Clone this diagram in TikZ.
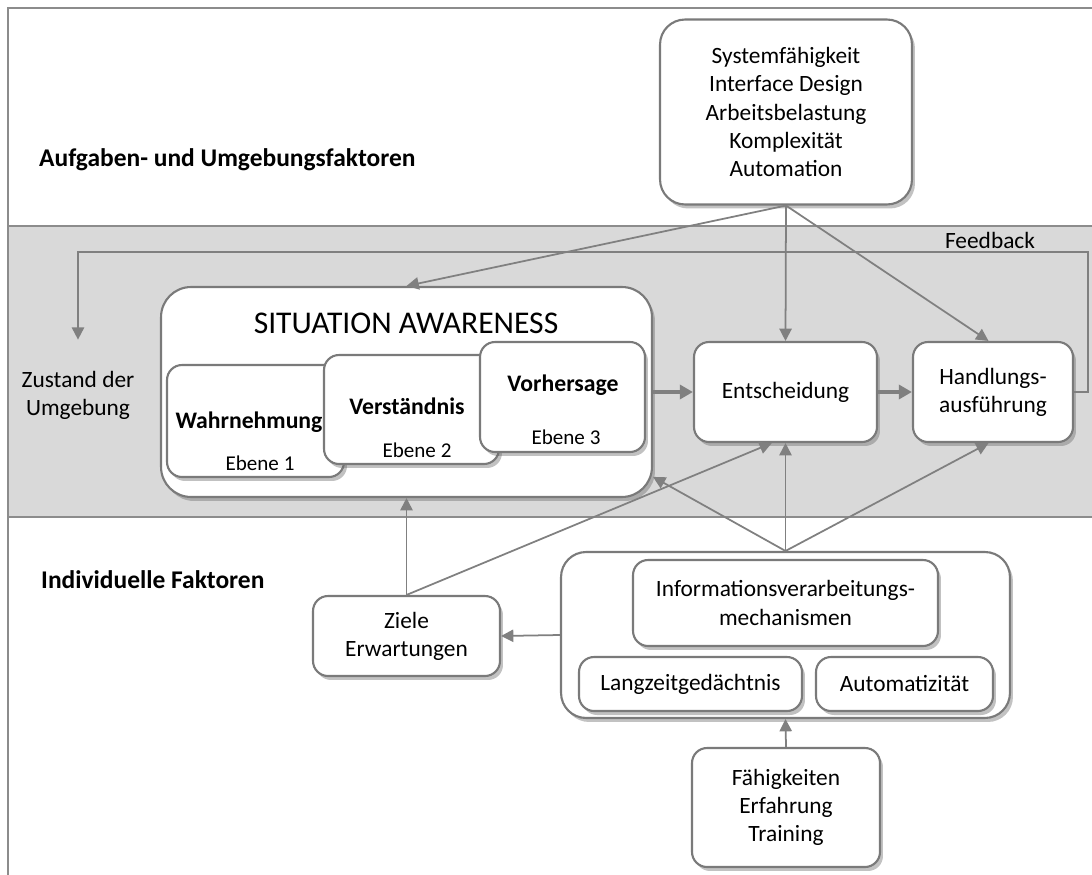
\documentclass[tikz,border=0pt]{standalone}
\usepackage{fontspec}
\setmainfont{Carlito}
\usetikzlibrary{arrows.meta,shadows}

\begin{document}
\begin{tikzpicture}[x=0.02cm, y=-0.02cm,
        box/.style={draw=black!52, line width=1.2pt, fill=white, rounded corners=0.3cm,
            drop shadow={shadow xshift=0.06cm, shadow yshift=-0.08cm, opacity=0.4, fill=black!60},
            align=center, inner sep=0pt, font=\fontsize{13.3}{16}\selectfont},
        txt/.style={align=center, font=\fontsize{13.3}{16}\selectfont},
        lab/.style={font=\fontsize{13.5}{16}\selectfont\bfseries},
        sub/.style={font=\fontsize{12}{14}\selectfont},
        head/.style={anchor=west, font=\fontsize{14.5}{17}\selectfont\bfseries},
        arr/.style={draw=black!50, line width=1pt, -{Triangle[length=7pt,width=7pt]}},
        thickarr/.style={draw=black!50, line width=2.4pt, -{Triangle[length=7.5pt,width=8pt]}}]
    \useasboundingbox (0,0) rectangle (1092,875);

    % bands
    \fill[black!15] (8,226) rectangle (1092,517);
    \draw[black!45, line width=0.8pt] (8,875) -- (8,8) -- (1092,8);
    \draw[black!45, line width=0.8pt] (8,226) -- (1092,226);
    \draw[black!45, line width=0.8pt] (8,517) -- (1092,517);

    \node[head] (aufg) at (33,160) {Aufgaben- und Umgebungsfaktoren};
    \node[head] (indiv) at (35,580) {Individuelle Faktoren};
    \node[txt] (fb) at (990,240) {Feedback};
    \node[txt, minimum height=2.2cm] (zust) at (78,395) {Zustand der\\Umgebung};

    \node[box, rounded corners=0.5cm, minimum width=5.04cm, minimum height=3.7cm] (task) at (786,112)
        {Systemfähigkeit\\Interface Design\\Arbeitsbelastung\\Komplexität\\Automation};

    % situation awareness
    \node[box, rounded corners=0.6cm, minimum width=9.82cm, minimum height=4.2cm] (sa) at (406.5,392) {};
    \node[font=\fontsize{18}{22}\selectfont] (satitle) at (406,323) {SITUATION AWARENESS};
    \node[box, minimum width=3.54cm, minimum height=2.24cm] (wahr) at (255.5,421) {};
    \node[lab] (wahrL) at (249,422) {Wahrnehmung};
    \node[sub] (wahrE) at (260,463) {Ebene 1};
    \node[box, minimum width=3.5cm, minimum height=2.18cm] (verst) at (411.5,409.5) {};
    \node[lab] (verstL) at (407,406) {Verständnis};
    \node[sub] (verstE) at (417,450) {Ebene 2};
    \node[box, minimum width=3.3cm, minimum height=2.2cm] (vorh) at (562.5,397) {};
    \node[lab] (vorhL) at (563,385) {Vorhersage};
    \node[sub] (vorhE) at (566,437) {Ebene 3};

    \node[box, minimum width=3.66cm, minimum height=2cm] (ent) at (785.5,392) {Entscheidung};
    \node[box, minimum width=3.2cm, minimum height=2cm] (hand) at (993,392) {Handlungs-\\ausführung};

    % individuelle faktoren
    \node[box, minimum width=3.74cm, minimum height=1.6cm] (ziele) at (406.5,636) {Ziele\\Erwartungen};
    \node[box, rounded corners=0.5cm, minimum width=8.98cm, minimum height=3.32cm] (ind) at (785.5,635) {};
    \node[box, minimum width=6.1cm, minimum height=1.72cm] (info) at (785.5,603) {Informationsverarbeitungs-\\mechanismen};
    \node[box, minimum width=4.46cm, minimum height=1.08cm] (lang) at (690.5,684) {Langzeitgedächtnis};
    \node[box, minimum width=3.54cm, minimum height=1.08cm] (auto) at (904.5,684) {Automatizität};
    \node[box, minimum width=3.76cm, minimum height=2.38cm] (faeh) at (786,807.5) {Fähigkeiten\\Erfahrung\\Training};

    \foreach \t in {sa.north, ent.north, hand.95}
        \draw[arr] (task.south) -- (\t);
    \foreach \t in {sa.-19, ent.south, hand.265}
        \draw[arr] (ind.north) -- (\t);
    \draw[arr] (ziele.north) -- (sa.south);
    \draw[arr] (ziele.north) -- (ent.255);
    \draw[arr] (ind.west) -- (ziele.east);
    \draw[arr] (faeh.north) -- (ind.south);
    \draw[thickarr] (sa.east) -- (ent.west);
    \draw[thickarr] (ent.east) -- (hand.west);

    \coordinate (fbR) at (1088,252);
    \coordinate (fbL) at (78,252);
    \draw[arr] (hand.east) -| (fbR) -- (fbL) -- (zust.north);
\end{tikzpicture}
\end{document}
